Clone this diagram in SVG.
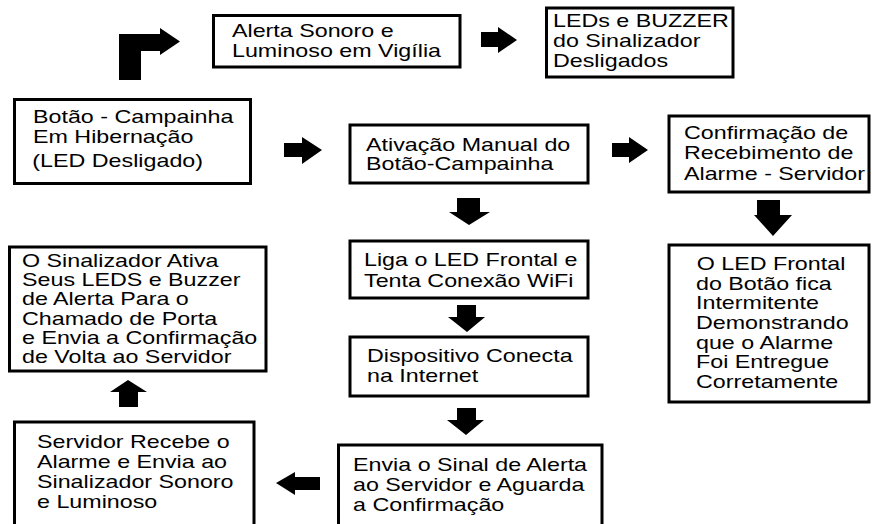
<svg xmlns="http://www.w3.org/2000/svg" width="872" height="524" viewBox="0 0 872 524">
<style>
.box{fill:#fff;stroke:#000;stroke-width:3}
.t{font-family:"Liberation Sans",Arial,sans-serif;font-size:17.5px;fill:#000}
.arr{fill:#000}
</style>
<rect width="872" height="524" fill="#fff"/>
<g id="connectors">
<polygon class="arr" points="119,80 141,80 141,51 160,51 160,55 180,41.5 160,28 160,34 119,34"/>
<polygon class="arr" points="481,32 498,32 498,27 517,40 498,53 498,47 481,47"/>
<polygon class="arr" points="284,143 302,143 302,137 322,150 302,164 302,157 284,157"/>
<polygon class="arr" points="612,143 629,143 629,137 648,150 629,163 629,157 612,157"/>
<polygon class="arr" points="457,198 480,198 480,212 490,212 469,225 449,212 457,212"/>
<polygon class="arr" points="457,305 476,305 476,317 485,317 467,332 448,317 457,317"/>
<polygon class="arr" points="457,408 476,408 476,420 484,420 466,435 447,420 457,420"/>
<polygon class="arr" points="757,200 780,200 780,215 792,215 773,236 754,215 757,215"/>
<polygon class="arr" points="320,477 295,477 295,472 276,483 295,495 295,490 320,490"/>
<polygon class="arr" points="119,407 138,407 138,392 147,392 128,380 110,392 119,392"/>
</g>
<g id="n-botao">
<rect class="box" x="14.5" y="99.5" width="236" height="84"/>
<text class="t" transform="translate(33 123) scale(1.33 1)"><tspan x="0" y="0">Botão - Campainha</tspan><tspan x="0" y="20">Em Hibernação</tspan><tspan x="-0.5" y="44">(LED Desligado)</tspan></text>
</g>
<g id="n-alerta">
<rect class="box" x="213.5" y="15.5" width="246.5" height="51.5"/>
<text class="t" transform="translate(232 37) scale(1.33 1)"><tspan x="0" y="0">Alerta Sonoro e</tspan><tspan x="0" y="20">Luminoso em Vigília</tspan></text>
</g>
<g id="n-leds">
<rect class="box" x="546.5" y="8" width="186.5" height="69"/>
<text class="t" transform="translate(553 27) scale(1.33 1)"><tspan x="0" y="0">LEDs e BUZZER</tspan><tspan x="0" y="20.5">do Sinalizador</tspan><tspan x="0" y="40">Desligados</tspan></text>
</g>
<g id="n-ativacao">
<rect class="box" x="350" y="125" width="238" height="58"/>
<text class="t" transform="translate(366 150.5) scale(1.33 1)"><tspan x="0" y="0">Ativação Manual do</tspan><tspan x="0" y="20">Botão-Campainha</tspan></text>
</g>
<g id="n-liga">
<rect class="box" x="350" y="241" width="238" height="57"/>
<text class="t" transform="translate(364 266) scale(1.33 1)"><tspan x="0" y="0">Liga o LED Frontal e</tspan><tspan x="0" y="21">Tenta Conexão WiFi</tspan></text>
</g>
<g id="n-dispositivo">
<rect class="box" x="350" y="337" width="238" height="59"/>
<text class="t" transform="translate(367 362) scale(1.33 1)"><tspan x="0" y="0">Dispositivo Conecta</tspan><tspan x="0" y="20">na Internet</tspan></text>
</g>
<g id="n-envia">
<rect class="box" x="338.5" y="445" width="263.5" height="90"/>
<text class="t" transform="translate(353 471) scale(1.33 1)"><tspan x="0" y="0">Envia o Sinal de Alerta</tspan><tspan x="0" y="20.5">ao Servidor e Aguarda</tspan><tspan x="0" y="40">a Confirmação</tspan></text>
</g>
<g id="n-confirmacao">
<rect class="box" x="669" y="116" width="200" height="76"/>
<text class="t" transform="translate(684 139) scale(1.33 1)"><tspan x="0" y="0">Confirmação de</tspan><tspan x="0" y="20">Recebimento de</tspan><tspan x="0" y="41">Alarme  - Servidor</tspan></text>
</g>
<g id="n-ledfrontal">
<rect class="box" x="669" y="245" width="200" height="157"/>
<text class="t" transform="translate(696 270) scale(1.33 1)"><tspan x="0.5" y="0">O LED Frontal</tspan><tspan x="0" y="19.7">do Botão fica</tspan><tspan x="0" y="39.4">Intermitente</tspan><tspan x="0" y="59.1">Demonstrando</tspan><tspan x="0" y="78.8">que o Alarme</tspan><tspan x="0" y="98.5">Foi Entregue</tspan><tspan x="0" y="118.2">Corretamente</tspan></text>
</g>
<g id="n-sinalizador">
<rect class="box" x="9.5" y="247" width="256.5" height="124"/>
<text class="t" transform="translate(22 267) scale(1.33 1)"><tspan x="0" y="0">O Sinalizador Ativa</tspan><tspan x="0" y="19.2">Seus LEDS e Buzzer</tspan><tspan x="0" y="38.4">de Alerta Para o</tspan><tspan x="0" y="57.6">Chamado de Porta</tspan><tspan x="0" y="76.8">e Envia a Confirmação</tspan><tspan x="0" y="96">de Volta ao Servidor</tspan></text>
</g>
<g id="n-servidor">
<rect class="box" x="14.5" y="422" width="239.5" height="110"/>
<text class="t" transform="translate(37 448) scale(1.33 1)"><tspan x="0" y="0">Servidor Recebe o</tspan><tspan x="0" y="20">Alarme e Envia ao</tspan><tspan x="0" y="40.5">Sinalizador Sonoro</tspan><tspan x="0" y="60">e Luminoso</tspan></text>
</g>
</svg>
